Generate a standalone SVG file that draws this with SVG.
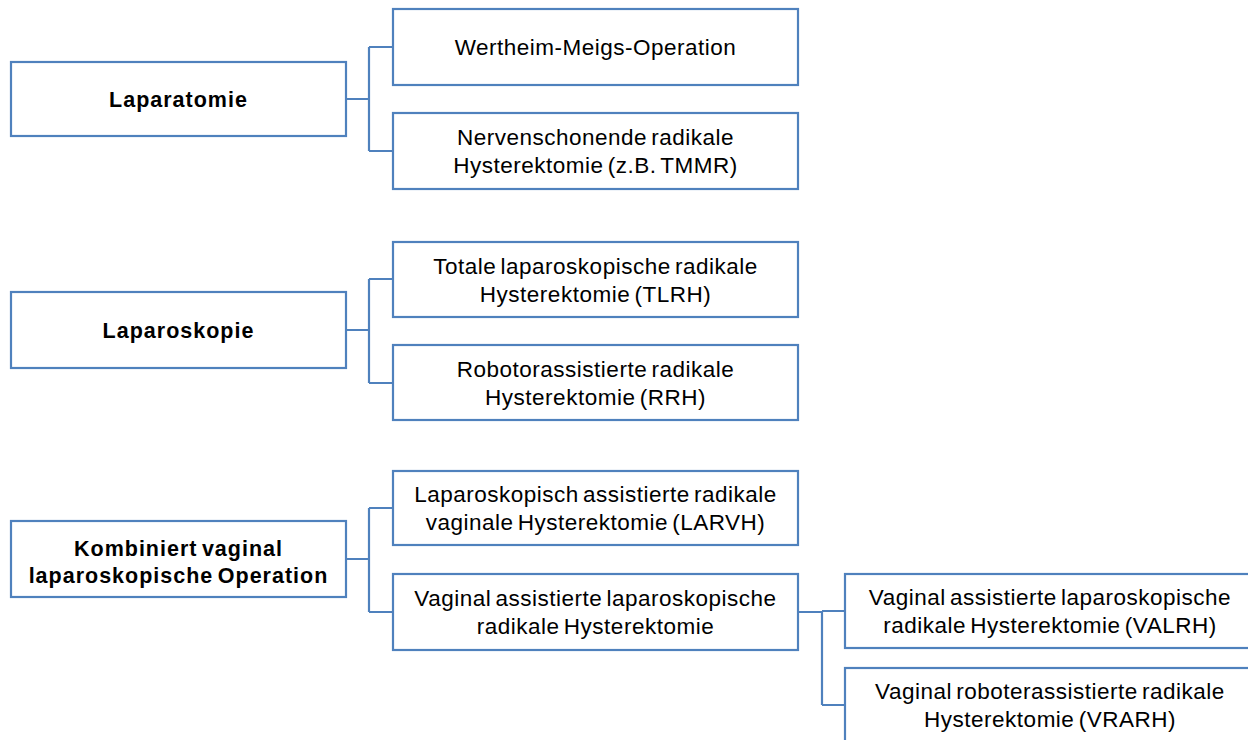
<svg xmlns="http://www.w3.org/2000/svg" width="1248" height="740" viewBox="0 0 1248 740">
<style>
.box{fill:#fff;stroke:#4F81BD;stroke-width:2.2}
.con{fill:none;stroke:#4F81BD;stroke-width:2.2}
text{font-family:"Liberation Sans",Arial,sans-serif;font-size:22.5px;fill:#000;text-anchor:middle;letter-spacing:0.5px;word-spacing:-2.5px}
.b{font-weight:bold;font-size:21.5px;letter-spacing:1px}
</style>
<rect width="1248" height="740" fill="#fff"/>
<g id="connectors">
<path class="con" d="M346,99 H369 M369,47 V151 M369,47 H393 M369,151 H393"/>
<path class="con" d="M346,330 H369 M369,279 V383 M369,279 H393 M369,383 H393"/>
<path class="con" d="M346,559 H369 M369,508 V612 M369,508 H393 M369,612 H393"/>
<path class="con" d="M798,612 H822 M822,611 V705 M822,611 H845 M822,705 H845"/>
</g>
<g id="n-laparatomie"><rect class="box" x="11" y="62" width="335" height="74"/><text class="b" x="178.5" y="107">Laparatomie</text></g>
<g id="n-wertheim"><rect class="box" x="393" y="9" width="405" height="76"/><text x="595.5" y="55">Wertheim-Meigs-Operation</text></g>
<g id="n-nerven"><rect class="box" x="393" y="113" width="405" height="76"/><text x="595.5" y="145">Nervenschonende radikale</text><text x="595.5" y="173">Hysterektomie (z.B. TMMR)</text></g>
<g id="n-laparoskopie"><rect class="box" x="11" y="292" width="335" height="76"/><text class="b" x="178.5" y="338">Laparoskopie</text></g>
<g id="n-tlrh"><rect class="box" x="393" y="242" width="405" height="75"/><text x="595.5" y="274">Totale laparoskopische radikale</text><text x="595.5" y="302">Hysterektomie (TLRH)</text></g>
<g id="n-rrh"><rect class="box" x="393" y="345" width="405" height="75"/><text x="595.5" y="377">Robotorassistierte radikale</text><text x="595.5" y="405">Hysterektomie (RRH)</text></g>
<g id="n-kombiniert"><rect class="box" x="11" y="521" width="335" height="76"/><text class="b" x="178.5" y="556">Kombiniert vaginal</text><text class="b" x="178.5" y="583">laparoskopische Operation</text></g>
<g id="n-larvh"><rect class="box" x="393" y="471" width="405" height="74"/><text x="595.5" y="502">Laparoskopisch assistierte radikale</text><text x="595.5" y="530">vaginale Hysterektomie (LARVH)</text></g>
<g id="n-valrh-parent"><rect class="box" x="393" y="574" width="405" height="76"/><text x="595.5" y="606">Vaginal assistierte laparoskopische</text><text x="595.5" y="634">radikale Hysterektomie</text></g>
<g id="n-valrh"><rect class="box" x="845" y="574" width="410" height="74"/><text x="1050" y="605">Vaginal assistierte laparoskopische</text><text x="1050" y="633">radikale Hysterektomie (VALRH)</text></g>
<g id="n-vrarh"><rect class="box" x="845" y="668" width="410" height="76"/><text x="1050" y="699">Vaginal roboterassistierte radikale</text><text x="1050" y="727">Hysterektomie (VRARH)</text></g>
</svg>
